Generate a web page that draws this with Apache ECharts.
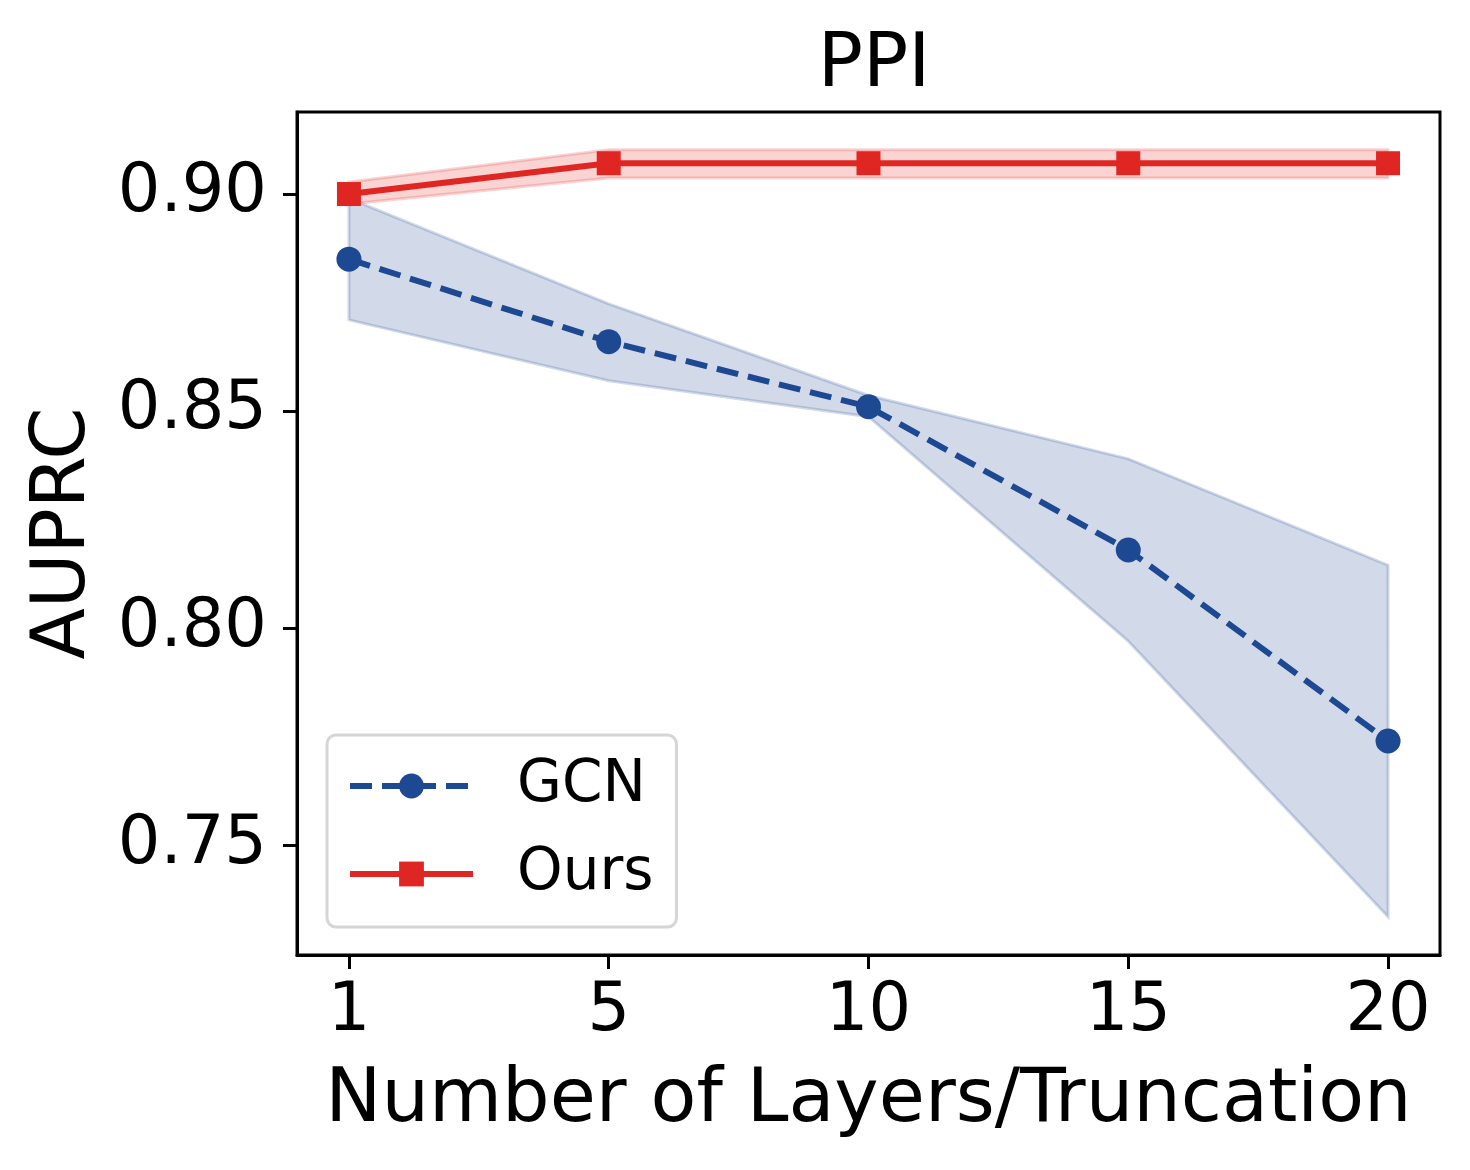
<!DOCTYPE html>
<html>
<head>
<meta charset="utf-8">
<script src="https://cdn.jsdelivr.net/npm/echarts@6/dist/echarts.min.js"></script>
<style>
  html, body { margin: 0; padding: 0; background: #fff; }
  #chart { width: 1470px; height: 1170px; }
</style>
</head>
<body>
<div id="chart"></div>
<script>
const layers = ["1", "5", "10", "15", "20"];
const gcnMean = [0.885, 0.866, 0.851, 0.818, 0.774];
const gcnLow = [0.871, 0.857, 0.8487, 0.797, 0.7335];
const gcnHigh = [0.899, 0.8747, 0.8536, 0.839, 0.8145];
const oursMean = [0.9, 0.9071, 0.9071, 0.9071, 0.9071];
const oursLow = [0.8977, 0.9037, 0.9037, 0.9037, 0.9037];
const oursHigh = [0.9028, 0.9102, 0.9102, 0.9102, 0.9102];
const yTicks = [0.75, 0.8, 0.85, 0.9];

const BLUE = "#1d4892";
const RED = "#e02622";
const BLUE_A = "rgba(29,72,146,0.2)";
const RED_A = "rgba(224,38,34,0.2)";
const FONT = "DejaVu Sans";

const pts = (arr) => arr.map((v, i) => [i, v]);

// fill_between style band: one polygon through the high values and back along the low ones
function bandSeries(name, low, high, color, z) {
  return {
    name: name,
    type: "custom",
    silent: true,
    z: z,
    data: low.map((v, i) => [i, v, high[i]]),
    renderItem: (params, api) => {
      if (params.dataIndex !== 0) return;
      const top = high.map((v, i) => api.coord([i, v]));
      const bottom = low.map((v, i) => api.coord([i, v])).reverse();
      return {
        type: "polygon",
        shape: { points: top.concat(bottom) },
        style: { fill: color, stroke: color, lineWidth: 3 },
      };
    },
  };
}

const chart = echarts.init(document.getElementById("chart"));

const option = {
  animation: false,
  backgroundColor: "#fff",
  title: {
    text: "PPI",
    left: 869,
    textAlign: "center",
    top: 24,
    textStyle: { fontFamily: FONT, fontSize: 75, fontWeight: "normal", color: "#000" },
  },
  grid: {
    left: 297,
    right: 30,
    top: 112,
    bottom: 215,
    show: true,
    borderColor: "#000",
    borderWidth: 3,
  },
  legend: {
    data: [
      { name: "GCN", lineStyle: { width: 6, type: [22, 10] } },
      { name: "Ours", lineStyle: { width: 6 } },
    ],
    orient: "vertical",
    left: 327,
    top: 735,
    padding: [22, 23, 24, 20],
    itemWidth: 123,
    itemHeight: 31,
    itemGap: 30,
    borderColor: "#d6d6d6",
    borderWidth: 3,
    borderRadius: 9,
    backgroundColor: "rgba(255,255,255,0.8)",
    textStyle: {
      fontFamily: FONT,
      fontSize: 58,
      color: "#000",
      lineHeight: 58,
      padding: [0, 0, 0, 39],
    },
  },
  xAxis: {
    type: "value",
    min: -0.2,
    max: 4.2,
    name: "Number of Layers/Truncation",
    nameLocation: "middle",
    nameGap: 109,
    nameTextStyle: { fontFamily: FONT, fontSize: 75, color: "#000" },
    axisLine: { show: true, onZero: false, lineStyle: { color: "#000", width: 3 } },
    axisTick: { show: true, length: 14, lineStyle: { color: "#000", width: 3 }, customValues: [0, 1, 2, 3, 4] },
    axisLabel: {
      fontFamily: FONT,
      fontSize: 67,
      color: "#000",
      margin: 24,
      customValues: [0, 1, 2, 3, 4],
      formatter: (v) => layers[Math.round(v)],
    },
    splitLine: { show: false },
  },
  yAxis: {
    type: "value",
    min: 0.7247,
    max: 0.9189,
    name: "AUPRC",
    nameLocation: "middle",
    nameGap: 195,
    nameTextStyle: { fontFamily: FONT, fontSize: 75, color: "#000" },
    axisLine: { show: true, onZero: false, lineStyle: { color: "#000", width: 3 } },
    axisTick: { show: true, length: 14, lineStyle: { color: "#000", width: 3 }, customValues: yTicks },
    axisLabel: {
      fontFamily: FONT,
      fontSize: 67,
      color: "#000",
      margin: 30,
      customValues: yTicks,
      formatter: (v) => v.toFixed(2),
    },
    splitLine: { show: false },
  },
  series: [
    bandSeries("GCN band", gcnLow, gcnHigh, BLUE_A, 1),
    {
      name: "GCN",
      type: "line",
      data: pts(gcnMean),
      symbol: "circle",
      symbolSize: 25,
      itemStyle: { color: BLUE },
      lineStyle: { color: BLUE, width: 6, type: [22, 10] },
      z: 2,
    },
    bandSeries("Ours band", oursLow, oursHigh, RED_A, 3),
    {
      name: "Ours",
      type: "line",
      data: pts(oursMean),
      symbol: "rect",
      symbolSize: 24,
      itemStyle: { color: RED },
      lineStyle: { color: RED, width: 6 },
      z: 4,
    },
  ],
};

chart.setOption(option);
</script>
</body>
</html>
